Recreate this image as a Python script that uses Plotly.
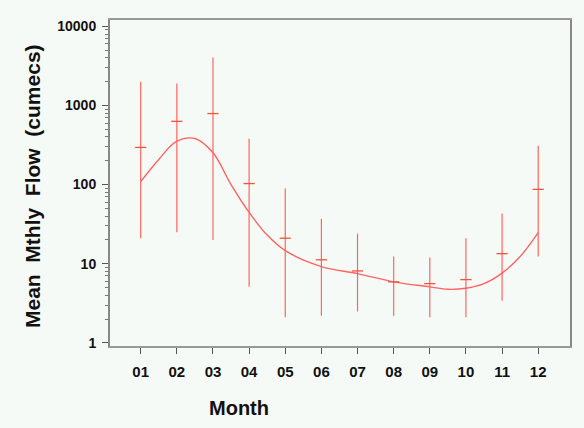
import plotly.graph_objects as go

# Monthly flow statistics (cumecs)
months = ["01", "02", "03", "04", "05", "06", "07", "08", "09", "10", "11", "12"]
month_num = list(range(1, 13))
mean_flow = [295, 630, 790, 103, 21, 11.2, 8.1, 5.9, 5.6, 6.3, 13.4, 87]
max_flow = [2000, 1900, 4050, 380, 89, 37, 24, 12.3, 12, 21, 43, 310]
min_flow = [21, 25, 20, 5.1, 2.1, 2.2, 2.5, 2.2, 2.1, 2.1, 3.4, 12.3]

# Smoothed seasonal curve, sampled along the month axis
smooth_x = [1, 1.5, 2, 2.5, 3, 3.5, 4, 4.5, 5, 6, 7, 8, 9, 9.5, 10, 10.5, 11, 11.5, 12]
smooth_flow = [109, 208, 353, 382, 252, 100, 44.5, 23, 14.6, 9.2, 7.5, 5.9, 5.1, 4.75,
               4.9, 5.6, 7.6, 12.3, 24.7]

RED = "#ff6464"
BG = "#f6faf6"
FONT = "Liberation Sans"

err_plus = [hi - m for hi, m in zip(max_flow, mean_flow)]
err_minus = [m - lo for lo, m in zip(min_flow, mean_flow)]

fig = go.Figure()

fig.add_trace(go.Scatter(
    x=smooth_x, y=smooth_flow, mode="lines",
    line=dict(color=RED, width=1.4, shape="spline", smoothing=1.0),
    hoverinfo="skip", showlegend=False,
))

# monthly means with min-max range
fig.add_trace(go.Scatter(
    x=month_num, y=mean_flow, mode="markers",
    marker=dict(symbol="line-ew-open", size=8, line=dict(color=RED, width=1.3)),
    error_y=dict(type="data", symmetric=False, array=err_plus, arrayminus=err_minus,
                 color=RED, thickness=1.2, width=0),
    showlegend=False,
))

fig.update_layout(
    width=584, height=428,
    margin=dict(l=110, r=12, t=20, b=82),
    paper_bgcolor=BG, plot_bgcolor=BG,
    font=dict(family=FONT, color="#111"),
)

fig.update_xaxes(
    range=[0.15, 12.88], tickmode="array", tickvals=month_num, ticktext=months,
    ticks="outside", ticklen=6, tickcolor="#555", tickwidth=1, ticklabelstandoff=5,
    showline=True, linecolor="#999", linewidth=2, mirror=True,
    showgrid=False, zeroline=False,
    tickfont=dict(family=FONT, size=15, weight="bold", color="#111"),
)

fig.update_yaxes(
    type="log", range=[-0.04, 4.08],
    tickvals=[1, 10, 100, 1000, 10000], ticktext=["1", "10", "100", "1000", "10000"],
    ticks="outside", ticklen=6, tickcolor="#555", tickwidth=1, ticklabelstandoff=3,
    minor=dict(ticks="outside", ticklen=3, tickcolor="#777",
               tickvals=[m * 10 ** d for d in range(4) for m in range(2, 10)]),
    showline=True, linecolor="#888", linewidth=2, mirror=True,
    showgrid=False, zeroline=False,
    tickfont=dict(family=FONT, size=14, weight="bold", color="#111"),
)

fig.add_annotation(
    text="Month", xref="paper", yref="paper", x=0.281, y=-0.19,
    showarrow=False, xanchor="center", yanchor="middle",
    font=dict(family=FONT, size=20, weight="bold", color="#111"),
)
fig.add_annotation(
    text="Mean\u00a0 Mthly\u00a0 Flow\u00a0 (cumecs)", xref="paper", yref="paper",
    x=-0.168, y=0.49, textangle=-90, showarrow=False,
    xanchor="center", yanchor="middle",
    font=dict(family=FONT, size=21, weight="bold", color="#111"),
)

fig.write_html("out.html")
